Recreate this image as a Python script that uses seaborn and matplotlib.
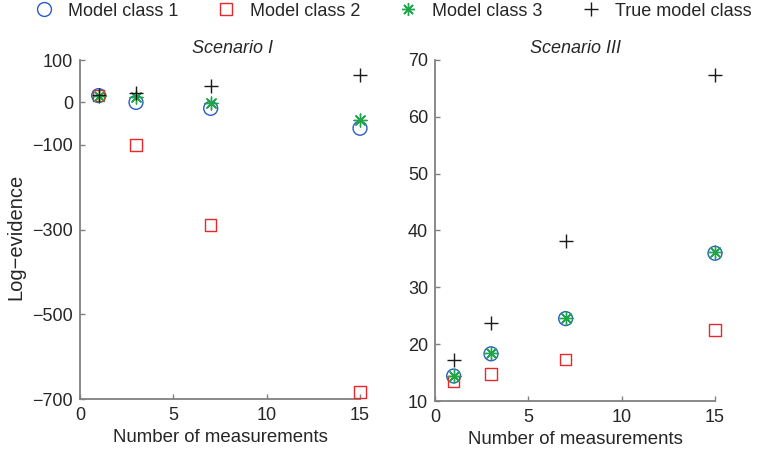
import numpy as np
import pandas as pd
import matplotlib
matplotlib.use("Agg")
import matplotlib.pyplot as plt
from matplotlib.lines import Line2D
import seaborn as sns

# ---- data ----
n_meas = [1, 3, 7, 15]
series_names = ["Model class 1", "Model class 2", "Model class 3", "True model class"]

s1_m1 = [16, 0, -14, -61]
s1_m2 = [16, -100, -290, -684]
s1_m3 = [16, 13, -2, -41]
s1_true = [17, 23, 38, 65]

s3_m1 = [14.4, 18.3, 24.5, 36.0]
s3_m2 = [13.4, 14.7, 17.3, 22.5]
s3_m3 = [14.4, 18.4, 24.6, 36.3]
s3_true = [17.2, 23.7, 38.2, 67.3]

titles = ["Scenario I", "Scenario III"]
x_ticks = [0, 5, 10, 15]
y_ticks_1 = [100, 0, -100, -300, -500, -700]
y_ticks_3 = [10, 20, 30, 40, 50, 60, 70]

# ---- style ----
sns.set_style("white")
plt.rcParams["font.family"] = ["Liberation Sans", "DejaVu Sans"]
plt.rcParams["axes.unicode_minus"] = True

blue = "#2a5cc4"
red = "#e8282c"
green = "#1fa64a"
black = "#1a1a1a"
spine_col = "#808080"
text_col = "#262626"

styles = {
    "Model class 1": dict(marker="o", s=100, facecolors="none", edgecolor=blue, color=blue, linewidth=1.0),
    "Model class 2": dict(marker="s", s=70, facecolors="none", edgecolor=red, color=red, linewidth=1.0),
    "Model class 3": dict(marker=(8, 2, 0), s=85, color=green, linewidth=1.0),
    "True model class": dict(marker="+", s=95, color=black, linewidth=1.0),
}

fig = plt.figure(figsize=(7.62, 4.5), dpi=100)
ax1 = fig.add_axes([80 / 762, 1 - 399 / 450, 280 / 762, 339 / 450])
ax3 = fig.add_axes([435 / 762, 1 - 401 / 450, 280 / 762, 341 / 450])

panels = [
    (ax1, [s1_m1, s1_m2, s1_m3, s1_true], (-700, 100), y_ticks_1, 0.543),
    (ax3, [s3_m1, s3_m2, s3_m3, s3_true], (10, 70), y_ticks_3, 0.5),
]

for (ax, vals, ylim, yt, tx), title in zip(panels, titles):
    for name, v in zip(series_names, vals):
        df = pd.DataFrame({"n": n_meas, "ev": v})
        sns.scatterplot(data=df, x="n", y="ev", ax=ax, legend=False, clip_on=False,
                        zorder=3, **styles[name])
    ax.set_xlim(0, 15)
    ax.set_ylim(*ylim)
    ax.set_xticks(x_ticks)
    ax.set_yticks(yt)
    ax.set_xlabel("Number of measurements", fontsize=13.4, color=text_col, labelpad=4)
    ax.set_ylabel("")
    ax.set_title(title, fontsize=13, style="italic", color=text_col, x=tx, pad=5)
    for sp in ["top", "right"]:
        ax.spines[sp].set_visible(False)
    for sp in ["left", "bottom"]:
        ax.spines[sp].set_color(spine_col)
        ax.spines[sp].set_linewidth(1.3)
    ax.tick_params(direction="in", length=3.5, width=1, color=spine_col,
                   labelsize=13, labelcolor=text_col, left=True, bottom=True)
    ax.tick_params(axis="y", pad=5)
    ax.tick_params(axis="x", pad=5.5)

ax1.set_ylabel("Log\u2212evidence", fontsize=14.5, color=text_col)
ax1.yaxis.set_label_coords(-0.196, 0.478)

handles = [
    Line2D([], [], ls="none", marker="o", mfc="none", mec=blue, ms=10, mew=1.0),
    Line2D([], [], ls="none", marker="s", mfc="none", mec=red, ms=8.4, mew=1.0),
    Line2D([], [], ls="none", marker=(8, 2, 0), color=green, ms=9.2, mew=1.0),
    Line2D([], [], ls="none", marker="+", color=black, ms=9.7, mew=1.0),
]
fig.legend(handles, series_names, loc="center left", bbox_to_anchor=(33 / 762, 1 - 11 / 450),
           ncol=4, frameon=False, handlelength=1.2, handletextpad=0.73, columnspacing=2.05,
           borderpad=0, borderaxespad=0, fontsize=13, labelcolor=text_col)

fig.savefig("out.png", dpi=100)
